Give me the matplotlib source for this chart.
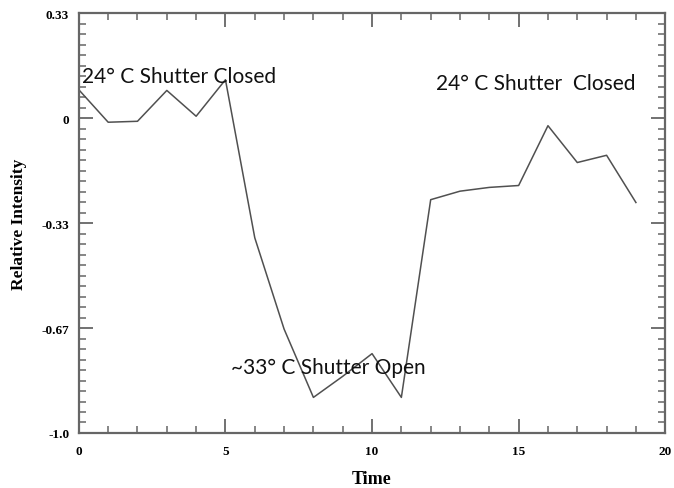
import matplotlib
matplotlib.use('Agg')
import matplotlib.pyplot as plt
from matplotlib.ticker import MultipleLocator

# data
time = list(range(20))
intensity = [0.09, -0.013, -0.01, 0.088, 0.006, 0.122, -0.38, -0.67, -0.887, -0.82,
             -0.748, -0.887, -0.259, -0.232, -0.22, -0.214, -0.024, -0.141, -0.118, -0.268]
ytick_vals = [1/3, 0, -1/3, -2/3, -1.0]
ytick_labels = ['0.33', '0', '-0.33', '-0.67', '-1.0']
xtick_vals = [0, 5, 10, 15, 20]

notes = [
    ('24° C Shutter Closed', 0.1, 0.135),
    ('24° C Shutter  Closed', 12.18, 0.11),
    ('~33° C Shutter Open', 5.19, -0.79),
]

fig = plt.figure(figsize=(6.74, 4.89), dpi=100)
ax = fig.add_axes([0.117, 0.1125, 0.87, 0.8585])

ax.plot(time, intensity, color='#505050', linewidth=1.1)

ax.set_xlim(0, 20)
ax.set_ylim(-1.0, 1/3)

serif = 'Liberation Serif'
ax.set_xticks(xtick_vals)
ax.set_xticklabels([str(v) for v in xtick_vals], fontfamily=serif, fontweight='bold', fontsize=9.5)
ax.set_yticks(ytick_vals)
ax.set_yticklabels(ytick_labels, fontfamily=serif, fontweight='bold', fontsize=9.5)
ax.xaxis.set_minor_locator(MultipleLocator(1))
ax.yaxis.set_minor_locator(MultipleLocator(1/30))

ax.tick_params(which='both', direction='in', top=True, right=True, color='#666666')
ax.tick_params(which='major', length=10, width=1.3)
ax.tick_params(which='minor', length=5, width=1.1)
ax.tick_params(axis='x', which='major', pad=9)
ax.tick_params(axis='y', which='major', pad=7)

for sp in ax.spines.values():
    sp.set_color('#666666')
    sp.set_linewidth(1.6)

ax.set_xlabel('Time', fontfamily=serif, fontweight='bold', fontsize=13, labelpad=9)
ax.set_ylabel('Relative Intensity', fontfamily=serif, fontweight='bold', fontsize=12.5, labelpad=10)

for txt, tx, ty in notes:
    ax.text(tx, ty, txt, fontfamily='Lato', fontsize=15, color='#111111',
            ha='left', va='center')

fig.savefig('out.png', dpi=100, facecolor='white')
